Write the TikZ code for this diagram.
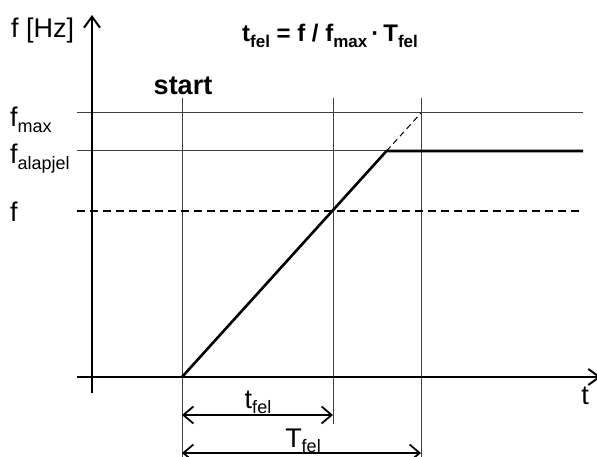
\documentclass[tikz,border=0pt]{standalone}
\usepackage{fontspec}
\setmainfont{Liberation Sans}
\usetikzlibrary{arrows.meta}
\newcommand\sbx[1]{\raisebox{-0.22em}{\fontsize{18}{19}\selectfont #1}}
\newcommand\sbt[1]{\raisebox{-0.22em}{\fontsize{17}{18}\selectfont #1}}
\tikzset{
  axisline/.style={line width=2pt, black},
  thinline/.style={line width=1pt, black!75},
  ramp/.style={line width=2.6pt, black},
  barb/.style={Straight Barb[length=10pt,width=17pt,line width=1.8pt]},
  dimarrow/.style={line width=1.6pt, black, {Straight Barb[length=10pt,width=17pt,line width=1.8pt]}-{Straight Barb[length=10pt,width=17pt,line width=1.8pt]}},
  lbl/.style={inner sep=0pt, font=\fontsize{27}{29}\selectfont},
  blbl/.style={inner sep=0pt, font=\fontsize{27}{29}\selectfont\bfseries},
}
\begin{document}
\begin{tikzpicture}[x=1pt,y=-1pt]
\useasboundingbox (0,0) rectangle (597,457);
% coordinates
\coordinate (yb) at (92,393);
\coordinate (yt) at (92,15);
\coordinate (xl) at (77,377);
\coordinate (xr) at (601,377);
\coordinate (s0) at (182,98);
\coordinate (s1) at (182,457);
\coordinate (a0) at (333,98);
\coordinate (a1) at (333,424);
\coordinate (b0) at (421,98);
\coordinate (b1) at (421,457);
\coordinate (m0) at (77,113);
\coordinate (m1) at (583,113);
\coordinate (p0) at (77,151);
\coordinate (p1) at (583,151);
\coordinate (f0) at (77,211);
\coordinate (f1) at (583,211);
\coordinate (r0) at (182,377);
\coordinate (r1) at (386.5,151);
\coordinate (r2) at (421,113);
\coordinate (d1l) at (182,415);
\coordinate (d1r) at (333,415);
\coordinate (d2l) at (182,453);
\coordinate (d2r) at (421,453);
% thin lines
\draw[thinline] (m0) -- (m1);
\draw[thinline] (p0) -- (p1);
\draw[thinline] (s0) -- (s1);
\draw[thinline] (a0) -- (a1);
\draw[thinline] (b0) -- (b1);
\draw[line width=1.6pt, dash pattern=on 8pt off 5pt] (f0) -- (f1);
\draw[line width=1pt, dash pattern=on 6pt off 4pt] (r1) -- (r2);
% axes
\draw[axisline, -{Straight Barb[length=11pt,width=16pt,line width=2pt]}] (yb) -- (yt);
\draw[axisline, -{Straight Barb[length=11pt,width=16pt,line width=2pt]}] (xl) -- (xr);
% ramp
\draw[ramp, line join=round] (r0) -- (r1) -- (p1);
% dimension arrows
\draw[dimarrow] (d1l) -- (d1r);
\draw[dimarrow] (d2l) -- (d2r);
% labels
\node[lbl, anchor=base west] (fhz) at (11,38) {f [Hz]};
\node[inner sep=0pt, font=\fontsize{24}{26}\selectfont\bfseries, anchor=base] (title) at (330,42) {t\sbt{\bfseries fel} = f / f\sbt{\bfseries max}\,·\,T\sbt{\bfseries fel}};
\node[blbl, anchor=base] (start) at (183,95) {start};
\node[lbl, anchor=base west] (fmax) at (10,127) {f\sbx{max}};
\node[lbl, anchor=base west] (falap) at (10,164) {f\sbx{alapjel}};
\node[lbl, anchor=base west] (ff) at (10,222) {f};
\node[lbl, anchor=base] (tfel) at (258,408) {t\sbx{fel}};
\node[lbl, anchor=base] (Tfel) at (303,447) {T\sbx{fel}};
\node[lbl, anchor=base] (tt) at (585,404) {t};
\end{tikzpicture}
\end{document}
